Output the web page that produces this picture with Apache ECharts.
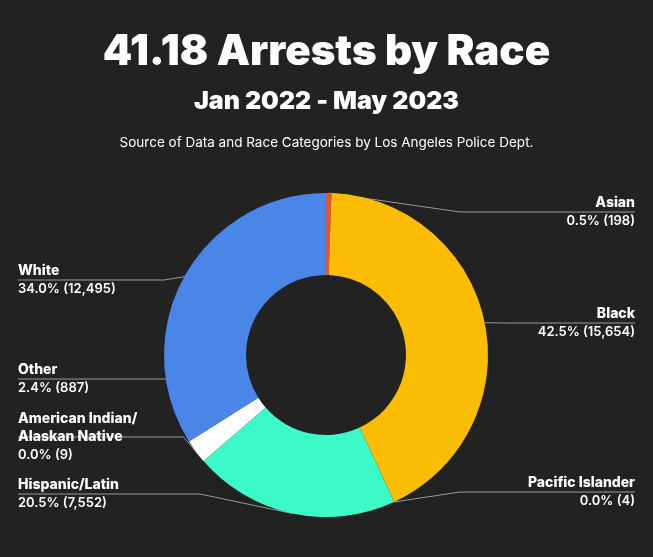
<!DOCTYPE html>
<html><head><meta charset="utf-8">
<script src="https://cdn.jsdelivr.net/npm/echarts@6/dist/echarts.min.js"></script>
<style>html,body{margin:0;background:#222222}#c{width:653px;height:557px}</style>
</head><body><div id="c"></div>
<script>
const categories=["Asian","Black","Pacific Islander","Hispanic/Latin","American Indian/\nAlaskan Native","Other","White"];
const values=[198,15654,4,7552,9,887,12495];
const percents=["0.5%","42.5%","0.0%","20.5%","0.0%","2.4%","34.0%"];
const colors=["#e2553c","#fbbc04","#a0a0a0","#3dfbc9","#dddddd","#ffffff","#4a86e8"];
const labelY=[212,323,492,494,437,379,280];
const chart=echarts.init(document.getElementById('c'));
chart.setOption({
  backgroundColor:'#222222',
  title:[
    {text:'41.18 Arrests by Race',left:'center',top:26,textStyle:{color:'#fff',fontSize:42,fontWeight:900,fontFamily:'Inter'}},
    {text:'Jan 2022 - May 2023',left:'center',top:84,textStyle:{color:'#fff',fontSize:25,fontWeight:900,fontFamily:'Inter'}},
    {text:'Source of Data and Race Categories by Los Angeles Police Dept.',left:'center',top:131,textStyle:{color:'#fff',fontSize:13.5,fontWeight:'normal',fontFamily:'Inter'}}
  ],
  series:[{
    type:'pie',center:[326,355],radius:[80,162],startAngle:90,clockwise:true,
    data:categories.map((n,i)=>({name:n,value:values[i],itemStyle:{color:colors[i]},
      label:{formatter:'{n|'+n+'}\n{v|'+percents[i]+' ('+values[i].toLocaleString('en-US')+')}'}})),
    minShowLabelAngle:0,avoidLabelOverlap:false,
    label:{show:true,alignTo:'edge',edgeDistance:18,color:'#fff',
      rich:{n:{fontSize:14,fontWeight:800,color:'#fff',fontFamily:'Inter',lineHeight:18},
            v:{fontSize:13,fontWeight:600,color:'#fff',fontFamily:'Inter',lineHeight:18}}},
    labelLine:{show:true,length:20,length2:10,lineStyle:{color:'#999',width:1}},
    labelLayout:function(p){
      const y=labelY[p.dataIndex];
      const pts=p.labelLinePoints;
      const left=p.labelRect.x<326;
      const endX=left?18:635;
      const pt0=pts[0];
      return {y:y,verticalAlign:'middle',labelLinePoints:[pt0,[left?Math.min(pt0[0]-20,200):Math.max(pt0[0]+20,460),y],[endX,y]]};
    }
  }]
});
</script></body></html>
